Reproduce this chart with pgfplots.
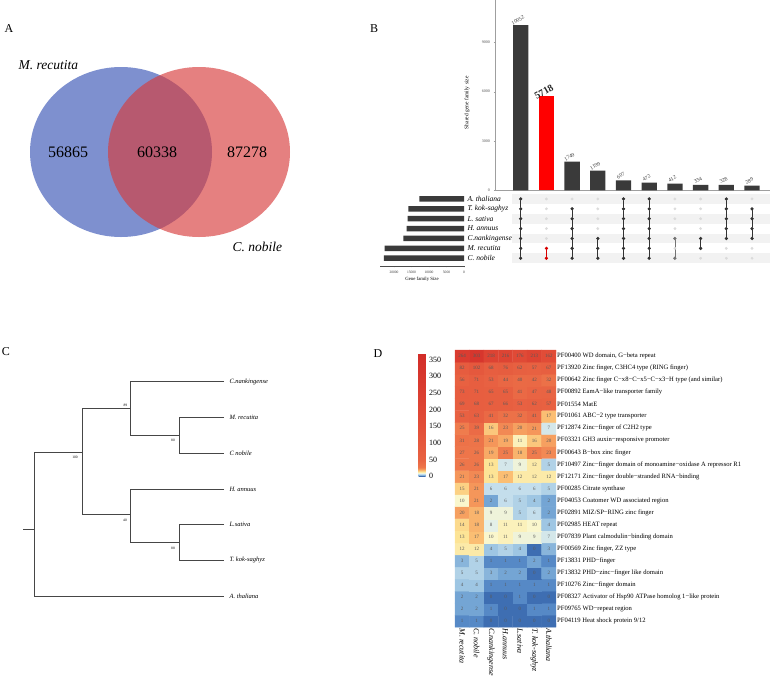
\documentclass[border=0pt]{standalone}
\usepackage{fontspec}
\setmainfont{Liberation Serif}
\usepackage{pgfplots}
\usepackage{pgfplotstable}
\pgfplotsset{compat=1.18}
\pgfplotsset{/pgf/number format/assume math mode=true, /pgf/number format/1000 sep={}}
\newcommand{\fs}[1]{\fontsize{#1}{#1}\selectfont}
\definecolor{venblue}{RGB}{126,144,207}
\definecolor{venred}{RGB}{215,60,60}
\definecolor{bardark}{RGB}{58,58,58}
\definecolor{treegray}{RGB}{70,70,70}

\pgfplotstableread{
x y v
0 0 1
1 0 1
2 0 0
3 0 0
4 0 0
5 0 0
6 0 0
0 1 2
1 1 2
2 1 1
3 1 0
4 1 0
5 1 1
6 1 1
0 2 2
1 2 2
2 2 0
3 2 0
4 2 1
5 2 0
6 2 0
0 3 4
1 3 4
2 3 1
3 3 1
4 3 1
5 3 1
6 3 1
0 4 5
1 4 5
2 4 3
3 4 2
4 4 2
5 4 0
6 4 2
0 5 3
1 5 5
2 5 1
3 5 1
4 5 1
5 5 2
6 5 1
0 6 12
1 6 12
2 6 4
3 6 5
4 6 4
5 6 0
6 6 3
0 7 13
1 7 17
2 7 10
3 7 11
4 7 9
5 7 9
6 7 7
0 8 14
1 8 18
2 8 8
3 8 11
4 8 11
5 8 10
6 8 4
0 9 20
1 9 18
2 9 9
3 9 9
4 9 5
5 9 6
6 9 2
0 10 10
1 10 21
2 10 2
3 10 6
4 10 5
5 10 4
6 10 2
0 11 15
1 11 21
2 11 6
3 11 6
4 11 6
5 11 6
6 11 5
0 12 21
1 12 23
2 12 13
3 12 17
4 12 12
5 12 12
6 12 12
0 13 26
1 13 26
2 13 13
3 13 7
4 13 9
5 13 12
6 13 5
0 14 27
1 14 26
2 14 19
3 14 25
4 14 18
5 14 25
6 14 23
0 15 31
1 15 28
2 15 21
3 15 19
4 15 11
5 15 16
6 15 20
0 16 25
1 16 39
2 16 16
3 16 23
4 16 20
5 16 21
6 16 7
0 17 53
1 17 63
2 17 41
3 17 32
4 17 32
5 17 41
6 17 17
0 18 69
1 18 68
2 18 67
3 18 66
4 18 53
5 18 62
6 18 57
0 19 73
1 19 71
2 19 65
3 19 65
4 19 41
5 19 47
6 19 48
0 20 56
1 20 71
2 20 53
3 20 44
4 20 40
5 20 42
6 20 32
0 21 82
1 21 102
2 21 68
3 21 76
4 21 62
5 21 57
6 21 67
0 22 264
1 22 303
2 22 218
3 22 216
4 22 176
5 22 213
6 22 162
}\heat

\begin{document}
\begin{tikzpicture}
\path[use as bounding box] (0pt,0pt) rectangle (778pt,-675pt);

% ---------- panel letters
\node[font=\fs{12}] at (9pt,-29pt) {A};
\node[font=\fs{12}] at (374pt,-29pt) {B};
\node[font=\fs{12}] at (6pt,-352pt) {C};
\node[font=\fs{12}] at (378pt,-354pt) {D};

% ---------- panel A: Venn
\fill[venblue] (121pt,-152pt) ellipse [x radius=91pt, y radius=85pt];
\fill[venred, opacity=0.65] (199pt,-152pt) ellipse [x radius=91pt, y radius=85pt];
\node[font=\fs{16}] at (68pt,-152pt) {56865};
\node[font=\fs{16}] at (157pt,-152pt) {60338};
\node[font=\fs{16}] at (247pt,-152pt) {87278};
\node[font=\itshape\fs{13.5}, anchor=west] at (15pt,-65pt) {M. recutita};
\node[font=\itshape\fs{13.5}, anchor=west] at (229pt,-247pt) {C. nobile};

% ---------- panel B: intersection bars
\begin{axis}[at={(495pt,-190.3pt)}, anchor=south west, scale only axis,
  width=275pt, height=190.3pt, xmin=0, xmax=10.7, ymin=0, ymax=11573,
  axis x line*=bottom, axis y line*=left,
  axis line style={draw=gray!75, line width=0.8pt},
  xtick=\empty, ytick={0,3000,6000,9000},
  yticklabel style={font=\fs{4}, text=black!70},
  tick style={draw=gray!75}, major tick length=1.5pt, tick align=outside,
  scaled y ticks=false,
  ylabel={Shared gene family size},
  ylabel style={font=\fs{5.5}, at={(axis description cs:-0.102,0.46)}, anchor=center},
  ybar, bar width=15.3pt, clip=false]
\addplot[fill=bardark, draw=none, bar shift=0pt, nodes near coords,
  every node near coord/.style={font=\fs{5.5}, text=black!75, rotate=30, anchor=south}]
  coordinates {(1,10052) (3,1749) (4,1199) (5,607) (6,472) (7,412) (8,334) (9,328) (10,289)};
\addplot[fill=red, draw=none, bar shift=0pt, nodes near coords,
  every node near coord/.style={font=\bfseries\fs{10}, text=black!85, rotate=30, anchor=south, inner sep=1.5pt}]
  coordinates {(2,5718)};
\end{axis}

% ---------- panel B: set sizes
\begin{axis}[at={(464pt,-266.1pt)}, anchor=south east, scale only axis,
  width=84pt, height=72.1pt, xmin=0, xmax=24000, x dir=reverse,
  ymin=0.2, ymax=7.5,
  axis x line*=bottom, axis y line=none,
  axis line style={draw=black!70, line width=0.5pt},
  xtick={0,5000,10000,15000,20000}, scaled x ticks=false,
  xticklabel style={font=\fs{3.6}, text=black!80},
  tick style={draw=black!70}, major tick length=1.2pt, tick align=outside,
  xlabel={Gene family Size}, xlabel style={font=\fs{4.8}, yshift=3pt},
  xbar, bar width=5.5pt, clip=false]
\addplot[fill=bardark, draw=none, bar shift=0pt]
  coordinates {(12770,7) (15900,6) (16090,5) (16370,4) (17340,3) (22660,2) (22860,1)};
\node[anchor=west, font=\itshape\fs{7.5}] at (axis cs:0,7) {A. thaliana};
\node[anchor=west, font=\itshape\fs{7.5}] at (axis cs:0,6) {T. kok-saghyz};
\node[anchor=west, font=\itshape\fs{7.5}] at (axis cs:0,5) {L. sativa};
\node[anchor=west, font=\itshape\fs{7.5}] at (axis cs:0,4) {H. annuus};
\node[anchor=west, font=\itshape\fs{7.5}] at (axis cs:0,3) {C.nankingense};
\node[anchor=west, font=\itshape\fs{7.5}] at (axis cs:0,2) {M. recutita};
\node[anchor=west, font=\itshape\fs{7.5}] at (axis cs:0,1) {C. nobile};
\end{axis}

% ---------- panel B: matrix
\begin{axis}[at={(495pt,-263.2pt)}, anchor=south west, scale only axis,
  width=275pt, height=69.2pt, xmin=0, xmax=10.7, ymin=0.5, ymax=7.5,
  y dir=reverse, hide axis, clip=false]
\fill[gray!10] (axis cs:0.65,0.5) rectangle (axis cs:10.7,1.5);
\fill[gray!10] (axis cs:0.65,2.5) rectangle (axis cs:10.7,3.5);
\fill[gray!10] (axis cs:0.65,4.5) rectangle (axis cs:10.7,5.5);
\fill[gray!10] (axis cs:0.65,6.5) rectangle (axis cs:10.7,7.5);
\addplot[only marks, mark=*, mark size=1.2pt, color=gray!28] coordinates {
(1,1)(1,2)(1,3)(1,4)(1,5)(1,6)(1,7)
(2,1)(2,2)(2,3)(2,4)(2,5)(2,6)(2,7)
(3,1)(3,2)(3,3)(3,4)(3,5)(3,6)(3,7)
(4,1)(4,2)(4,3)(4,4)(4,5)(4,6)(4,7)
(5,1)(5,2)(5,3)(5,4)(5,5)(5,6)(5,7)
(6,1)(6,2)(6,3)(6,4)(6,5)(6,6)(6,7)
(7,1)(7,2)(7,3)(7,4)(7,5)(7,6)(7,7)
(8,1)(8,2)(8,3)(8,4)(8,5)(8,6)(8,7)
(9,1)(9,2)(9,3)(9,4)(9,5)(9,6)(9,7)
(10,1)(10,2)(10,3)(10,4)(10,5)(10,6)(10,7)};
\addplot[black!80, line width=0.8pt, mark=*, mark size=1.2pt] coordinates {(1,1)(1,2)(1,3)(1,4)(1,5)(1,6)(1,7)};
\addplot[red!85!black, line width=0.8pt, mark=*, mark size=1.2pt] coordinates {(2,6)(2,7)};
\addplot[black!80, line width=0.8pt, mark=*, mark size=1.2pt] coordinates {(3,2)(3,3)(3,4)(3,5)(3,6)(3,7)};
\addplot[black!80, line width=0.8pt, mark=*, mark size=1.2pt] coordinates {(4,5)(4,6)(4,7)};
\addplot[black!80, line width=0.8pt, mark=*, mark size=1.2pt] coordinates {(5,1)(5,2)(5,3)(5,4)(5,5)(5,6)(5,7)};
\addplot[black!80, line width=0.8pt, mark=*, mark size=1.2pt] coordinates {(6,1)(6,2)(6,3)(6,4)(6,5)(6,6)(6,7)};
\addplot[black!55, line width=0.8pt, mark=*, mark size=1.2pt] coordinates {(7,5)(7,7)};
\addplot[black!80, line width=0.8pt, mark=*, mark size=1.2pt] coordinates {(8,5)(8,6)};
\addplot[black!80, line width=0.8pt, mark=*, mark size=1.2pt] coordinates {(9,1)(9,2)(9,3)(9,4)(9,5)};
\addplot[black!80, line width=0.8pt, mark=*, mark size=1.2pt] coordinates {(10,2)(10,3)(10,4)(10,5)};
\end{axis}

% ---------- panel C: tree
\begin{axis}[at={(0pt,-340pt)}, anchor=north west, scale only axis,
  width=390pt, height=280pt, xmin=0, xmax=390, ymin=340, ymax=620,
  y dir=reverse, hide axis, clip=false]
\addplot[treegray, line width=0.7pt] coordinates {(23.3,529) (34.3,529)};
\addplot[treegray, line width=0.7pt] coordinates {(82.3,452.7) (34.3,452.7) (34.3,596) (224,596)};
\addplot[treegray, line width=0.7pt] coordinates {(130,408.7) (82.3,408.7) (82.3,514.7) (130,514.7)};
\addplot[treegray, line width=0.7pt] coordinates {(224,381.7) (130,381.7) (130,435.7) (179.3,435.7)};
\addplot[treegray, line width=0.7pt] coordinates {(224,417.7) (179.3,417.7) (179.3,453.3) (224,453.3)};
\addplot[treegray, line width=0.7pt] coordinates {(224,489) (130,489) (130,542.3) (179.3,542.3)};
\addplot[treegray, line width=0.7pt] coordinates {(224,524.3) (179.3,524.3) (179.3,560) (224,560)};
\node[anchor=west, font=\itshape\fs{6.5}] at (axis cs:226,381.7) {C.nankingense};
\node[anchor=west, font=\itshape\fs{6.5}] at (axis cs:226,417.7) {M. recutita};
\node[anchor=west, font=\itshape\fs{6.5}] at (axis cs:226,453.3) {C nobile};
\node[anchor=west, font=\itshape\fs{6.5}] at (axis cs:226,489) {H. annuus};
\node[anchor=west, font=\itshape\fs{6.5}] at (axis cs:226,524.3) {L.sativa};
\node[anchor=west, font=\itshape\fs{6.5}] at (axis cs:226,560) {T. kok-saghyz};
\node[anchor=west, font=\itshape\fs{6.5}] at (axis cs:226,596) {A. thaliana};
\node[font=\fs{3.6}] at (axis cs:75,457.7) {100};
\node[font=\fs{3.6}] at (axis cs:125.3,405) {89};
\node[font=\fs{3.6}] at (axis cs:173,440) {80};
\node[font=\fs{3.6}] at (axis cs:125,520) {40};
\node[font=\fs{3.6}] at (axis cs:173,548) {88};
\end{axis}

% ---------- panel D: heatmap
\begin{axis}[at={(455pt,-350pt)}, anchor=north west, scale only axis,
  width=101pt, height=277.2pt, xmin=-0.5, xmax=6.5, ymin=-0.5, ymax=22.5,
  axis line style={draw=none}, major tick length=0pt,
  xtick={0,...,6},
  xticklabels={M. recutita, C. nobile, C.nankingense, H.annuus, L.sativa, T. kok-saghyz, A.thaliana},
  xticklabel style={rotate=-90, anchor=west, font=\itshape\fs{8}, inner sep=1pt},
  ytick={0,...,22}, yticklabel pos=right,
  yticklabels={{PF04119 Heat shock protein 9/12},
{PF09765 WD−repeat region},
{PF08327 Activator of Hsp90 ATPase homolog 1−like protein},
{PF10276 Zinc−finger domain},
{PF13832 PHD−zinc−finger like domain},
{PF13831 PHD−finger},
{PF00569 Zinc finger, ZZ type},
{PF07839 Plant calmodulin−binding domain},
{PF02985 HEAT repeat},
{PF02891 MIZ/SP−RING zinc finger},
{PF04053 Coatomer WD associated region},
{PF00285 Citrate synthase},
{PF12171 Zinc−finger double−stranded RNA−binding},
{PF10497 Zinc−finger domain of monoamine−oxidase A repressor R1},
{PF00643 B−box zinc finger},
{PF03321 GH3 auxin−responsive promoter},
{PF12874 Zinc−finger of C2H2 type},
{PF01061 ABC−2 type transporter},
{PF01554 MatE},
{PF00892 EamA−like transporter family},
{PF00642 Zinc finger C−x8−C−x5−C−x3−H type (and similar)},
{PF13920 Zinc finger, C3HC4 type (RING finger)},
{PF00400 WD domain, G−beta repeat}},
  yticklabel style={anchor=west, font=\fs{6.6}, inner sep=1pt},
  colormap={heat}{rgb255(0)=(62,110,178) rgb255(1)=(86,137,198) rgb255(2)=(116,165,212)
    rgb255(4)=(158,198,227) rgb255(6)=(196,222,236) rgb255(8)=(228,240,232)
    rgb255(10)=(250,247,205) rgb255(13)=(253,228,150) rgb255(17)=(251,190,115)
    rgb255(21)=(245,150,90) rgb255(26)=(238,118,74) rgb255(50)=(232,98,66)
    rgb255(150)=(226,78,56) rgb255(370)=(210,44,40)},
  point meta min=0, point meta max=370,
  colorbar,
  colorbar style={at={(parent axis.north west)}, anchor=north west,
    xshift=-45pt, yshift=-3pt, width=7pt, height=123pt,
    ytick={0,50,...,350}, yticklabel style={font=\fs{8}},
    axis line style={draw=none}, major tick length=0pt},
  clip=false]
\addplot[matrix plot*, mesh/cols=7, point meta=explicit] table[x=x, y=y, meta=v] {\heat};
\addplot[only marks, mark=none, nodes near coords, point meta=explicit symbolic,
  every node near coord/.style={anchor=center, font=\fs{5}, text=black!65}]
  table[x=x, y=y, meta=v] {\heat};
\end{axis}
\end{tikzpicture}
\end{document}
